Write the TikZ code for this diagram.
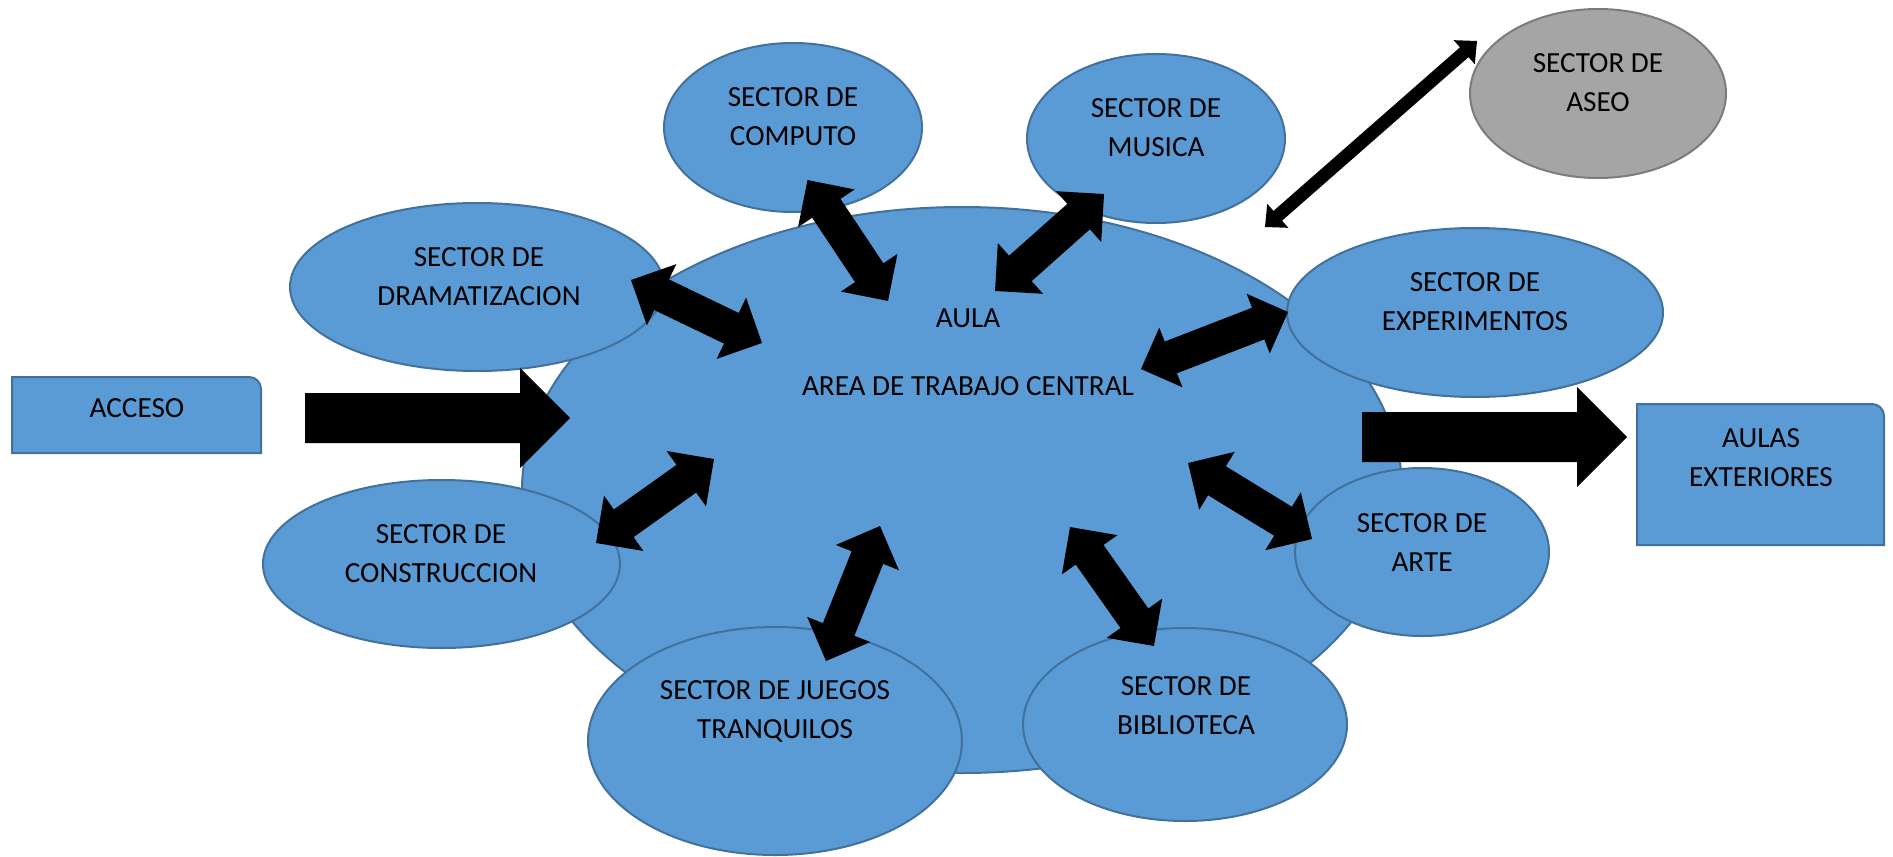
\documentclass[tikz,border=0pt]{standalone}
\usepackage{fontspec}
\setmainfont{Carlito}
\usetikzlibrary{calc,shapes.geometric}

\definecolor{secblue}{HTML}{5B9BD5}
\definecolor{secline}{HTML}{41719C}
\definecolor{aseogray}{HTML}{A5A5A5}
\definecolor{aseoline}{HTML}{7C7C7C}

\tikzset{
  sector/.style={ellipse, draw=secline, fill=secblue, line width=1pt, inner sep=0pt},
  frame/.style={rectangle, inner sep=0pt, outer sep=0pt},
  boxfill/.style={draw=secline, fill=secblue, line width=1pt},
  lbl/.style={align=center, inner sep=0pt, font=\fontsize{14.6}{19.5}\selectfont},
  arrowblk/.style={fill=black}
}

% block arrow with two heads: from, to, half shaft, half head, head length
\newcommand{\dblarrow}[5]{%
  \fill[arrowblk] (#1)
    -- ($(#1)!#5!(#2)!#4!90:(#2)$)
    -- ($(#1)!#5!(#2)!#3!90:(#2)$)
    -- ($(#2)!#5!(#1)!#3!-90:(#1)$)
    -- ($(#2)!#5!(#1)!#4!-90:(#1)$)
    -- (#2)
    -- ($(#2)!#5!(#1)!#4!90:(#1)$)
    -- ($(#2)!#5!(#1)!#3!90:(#1)$)
    -- ($(#1)!#5!(#2)!#3!-90:(#2)$)
    -- ($(#1)!#5!(#2)!#4!-90:(#2)$)
    -- cycle;}

% block arrow with one head at the second point
\newcommand{\onearrow}[5]{%
  \fill[arrowblk] ($(#1)!#3!90:(#2)$)
    -- ($(#2)!#5!(#1)!#3!-90:(#1)$)
    -- ($(#2)!#5!(#1)!#4!-90:(#1)$)
    -- (#2)
    -- ($(#2)!#5!(#1)!#4!90:(#1)$)
    -- ($(#2)!#5!(#1)!#3!90:(#1)$)
    -- ($(#1)!#3!-90:(#2)$)
    -- cycle;}

\begin{document}
\begin{tikzpicture}[x=0.5pt,y=-0.5pt]
\useasboundingbox (0,0) rectangle (1893,856);

% aula and sectors
\node[sector, minimum width=440pt, minimum height=283pt] (aula) at (962,490) {};
\node[sector, minimum width=129pt, minimum height=84.5pt] (comp) at (793,127.5) {};
\node[sector, minimum width=187pt, minimum height=84pt] (drama) at (477,287) {};
\node[sector, minimum width=129pt, minimum height=84.5pt] (musica) at (1156,138.5) {};
\node[sector, draw=aseoline, fill=aseogray, minimum width=128pt, minimum height=84.5pt] (aseo) at (1598,93.5) {};
\node[sector, minimum width=188pt, minimum height=84.5pt] (exper) at (1475,312.5) {};
\node[sector, minimum width=127pt, minimum height=84pt] (arte) at (1422,552) {};
\node[sector, minimum width=162pt, minimum height=96.5pt] (biblio) at (1185,724.5) {};
\node[sector, minimum width=178.5pt, minimum height=84pt] (constr) at (441.5,564) {};
\node[sector, minimum width=187pt, minimum height=114pt] (juegos) at (775,741) {};

% entrance and exit boxes
\node[frame, minimum width=124.5pt, minimum height=38pt] (acc) at (136.5,415) {};
\node[frame, minimum width=123.5pt, minimum height=70.5pt] (ext) at (1760.5,474.5) {};
\filldraw[boxfill] (acc.south west) -- (acc.north west) -- ([xshift=-6pt]acc.north east)
  arc[start angle=90, end angle=0, radius=6pt] -- (acc.south east) -- cycle;
\filldraw[boxfill] (ext.south west) -- (ext.north west) -- ([xshift=-6pt]ext.north east)
  arc[start angle=90, end angle=0, radius=6pt] -- (ext.south east) -- cycle;

% arrow ends
\coordinate (comp-a) at ([shift={(14.5,52.5)}]comp.center);
\coordinate (comp-b) at ([shift={(-74,-189)}]aula.center);
\coordinate (musica-a) at ([shift={(-52,55.5)}]musica.center);
\coordinate (musica-b) at ([shift={(33,-199)}]aula.center);
\coordinate (aseo-a) at ([shift={(-121,-52.5)}]aseo.center);
\coordinate (aseo-b) at ([shift={(303,-263)}]aula.center);
\coordinate (drama-a) at ([shift={(154,-7)}]drama.center);
\coordinate (drama-b) at ([shift={(-200,-147)}]aula.center);
\coordinate (exper-a) at ([shift={(-187,-0.5)}]exper.center);
\coordinate (exper-b) at ([shift={(179,-121)}]aula.center);
\coordinate (constr-a) at ([shift={(154.5,-21)}]constr.center);
\coordinate (constr-b) at ([shift={(-248,-31)}]aula.center);
\coordinate (juegos-a) at ([shift={(51,-80)}]juegos.center);
\coordinate (juegos-b) at ([shift={(-82,36)}]aula.center);
\coordinate (biblio-a) at ([shift={(-31,-78.5)}]biblio.center);
\coordinate (biblio-b) at ([shift={(108,37)}]aula.center);
\coordinate (arte-a) at ([shift={(-110,-13)}]arte.center);
\coordinate (arte-b) at ([shift={(226,-27)}]aula.center);
\coordinate (acc-a) at ([shift={(168.5,3)}]acc.center);
\coordinate (acc-b) at ([shift={(-392,-72)}]aula.center);
\coordinate (ext-a) at ([shift={(400,-53)}]aula.center);
\coordinate (ext-b) at ([shift={(-133.5,-37.5)}]ext.center);

% arrows
\dblarrow{comp-a}{comp-b}{8.5pt}{17pt}{17pt}
\dblarrow{musica-a}{musica-b}{8.5pt}{17pt}{17pt}
\dblarrow{aseo-a}{aseo-b}{3.25pt}{8pt}{8.5pt}
\dblarrow{drama-a}{drama-b}{8.5pt}{17pt}{17pt}
\dblarrow{exper-a}{exper-b}{8.5pt}{16pt}{16pt}
\dblarrow{constr-a}{constr-b}{8.5pt}{17pt}{17pt}
\dblarrow{juegos-a}{juegos-b}{8.5pt}{17pt}{17pt}
\dblarrow{biblio-a}{biblio-b}{8.5pt}{17pt}{17pt}
\dblarrow{arte-a}{arte-b}{8.5pt}{17pt}{17pt}
\onearrow{acc-a}{acc-b}{12.5pt}{25pt}{25pt}
\onearrow{ext-a}{ext-b}{12.5pt}{25pt}{25pt}

% texts
\node[lbl] (aula-t) at (968,352) {AULA\\[14.5pt]AREA DE TRABAJO CENTRAL};
\node[lbl] (comp-t) at (793,117) {SECTOR DE\\COMPUTO};
\node[lbl] (drama-t) at (479,277) {SECTOR DE\\DRAMATIZACION};
\node[lbl] (musica-t) at (1156,127.5) {SECTOR DE\\MUSICA};
\node[lbl] (aseo-t) at (1598,83) {SECTOR DE\\ASEO};
\node[lbl] (exper-t) at (1475,302) {SECTOR DE\\EXPERIMENTOS};
\node[lbl] (arte-t) at (1422,542.5) {SECTOR DE\\ARTE};
\node[lbl] (biblio-t) at (1186,705.5) {SECTOR DE\\BIBLIOTECA};
\node[lbl] (constr-t) at (441,554) {SECTOR DE\\CONSTRUCCION};
\node[lbl] (juegos-t) at (775,711) {SECTOR DE JUEGOS\\TRANQUILOS};
\node[lbl] (acc-t) at (137,408.5) {ACCESO};
\node[lbl] (ext-t) at (1761,457.5) {AULAS\\EXTERIORES};

\end{tikzpicture}
\end{document}
